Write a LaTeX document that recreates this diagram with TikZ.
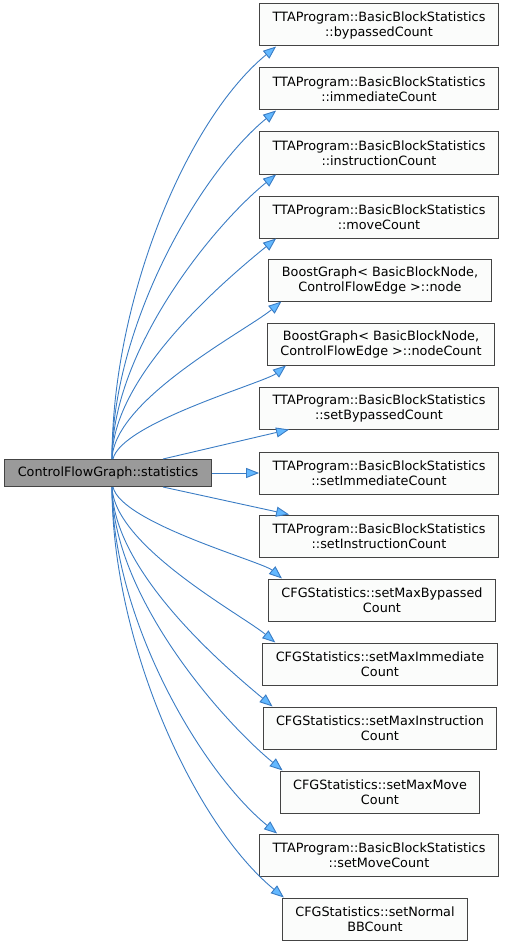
\documentclass[tikz,border=0pt]{standalone}
\usepackage{fontspec}
\setmainfont{DejaVu Sans}
\usetikzlibrary{arrows.meta}

\definecolor{edgeblue}{HTML}{3A7CC4}
\definecolor{tipblue}{HTML}{63B8FF}
\definecolor{boxline}{HTML}{444444}
\definecolor{boxfill}{HTML}{FBFCFB}
\definecolor{curfill}{HTML}{9A9A9A}

\begin{document}
\begin{tikzpicture}[
    x=1pt, y=-1pt,
    >={Triangle[length=13pt,width=10pt,fill=tipblue]},
    funcbox/.style={rectangle, draw=boxline, fill=boxfill, line width=1pt, align=center, inner xsep=13pt, minimum height=42pt, font=\fontsize{12.8}{15}\selectfont},
    curbox/.style={funcbox, fill=curfill, minimum height=27pt},
    call/.style={->, draw=edgeblue, line width=0.9pt}
]
\useasboundingbox (0,0) rectangle (505,947);
% ---------- caller ----------
\node[curbox] (stats) at (108,473) {ControlFlowGraph::statistics};
% ---------- callees ----------
\node[funcbox] (bypassed)       at (379,25)  {TTAProgram::BasicBlockStatistics\\::bypassedCount};
\node[funcbox] (immediate)      at (379,89)  {TTAProgram::BasicBlockStatistics\\::immediateCount};
\node[funcbox] (instruction)    at (379,153) {TTAProgram::BasicBlockStatistics\\::instructionCount};
\node[funcbox] (move)           at (379,217) {TTAProgram::BasicBlockStatistics\\::moveCount};
\node[funcbox] (bgnode)         at (380,280) {BoostGraph< BasicBlockNode,\\ ControlFlowEdge >::node};
\node[funcbox] (bgcount)        at (381,344) {BoostGraph< BasicBlockNode,\\ ControlFlowEdge >::nodeCount};
\node[funcbox] (setbypassed)    at (379,408) {TTAProgram::BasicBlockStatistics\\::setBypassedCount};
\node[funcbox] (setimmediate)   at (379,473) {TTAProgram::BasicBlockStatistics\\::setImmediateCount};
\node[funcbox] (setinstruction) at (379,536) {TTAProgram::BasicBlockStatistics\\::setInstructionCount};
\node[funcbox] (maxbypassed)    at (382,600) {CFGStatistics::setMaxBypassed\\Count};
\node[funcbox] (maximmediate)   at (380,664) {CFGStatistics::setMaxImmediate\\Count};
\node[funcbox] (maxinstruction) at (380,728) {CFGStatistics::setMaxInstruction\\Count};
\node[funcbox] (maxmove)        at (380,792) {CFGStatistics::setMaxMove\\Count};
\node[funcbox] (setmove)        at (379,855) {TTAProgram::BasicBlockStatistics\\::setMoveCount};
\node[funcbox] (normalbb)       at (375,919) {CFGStatistics::setNormal\\BBCount};
% ---------- calls, upper half ----------
\draw[call] ([xshift=4pt]stats.north) .. controls +(0,-157) and +(-91,75) .. ([xshift=17pt]bypassed.south west);
\draw[call] ([xshift=4pt]stats.north) .. controls +(0,-133) and +(-77,63) .. ([xshift=17pt]immediate.south west);
\draw[call] ([xshift=4pt]stats.north) .. controls +(0,-109) and +(-63,51) .. ([xshift=17pt]instruction.south west);
\draw[call] ([xshift=4pt]stats.north) .. controls +(0,-84) and +(-49,40) .. ([xshift=17pt]move.south west);
\draw[call] ([xshift=4pt]stats.north) .. controls +(2,-60) and +(-35,29) .. ([xshift=13pt]bgnode.south west);
\draw[call] ([xshift=5pt]stats.north) .. controls +(8,-36) and +(-21,17) .. ([xshift=19pt]bgcount.south west);
\draw[call] ([xshift=55pt]stats.north) -- ([xshift=30pt]setbypassed.south west);
% ---------- calls, straight ----------
\draw[call] (stats.east) -- (setimmediate.west);
% ---------- calls, lower half ----------
\draw[call] ([xshift=55pt]stats.south) -- ([xshift=30pt]setinstruction.north west);
\draw[call] ([xshift=5pt]stats.south) .. controls +(8,36) and +(-20,-17) .. ([xshift=14pt]maxbypassed.north west);
\draw[call] ([xshift=4pt]stats.south) .. controls +(2,59) and +(-34,-28) .. ([xshift=13pt]maximmediate.north west);
\draw[call] ([xshift=4pt]stats.south) .. controls +(0,84) and +(-48,-40) .. ([xshift=10pt]maxinstruction.north west);
\draw[call] ([xshift=4pt]stats.south) .. controls +(0,108) and +(-62,-51) .. ([xshift=3pt]maxmove.north west);
\draw[call] ([xshift=4pt]stats.south) .. controls +(0,132) and +(-76,-62) .. ([xshift=18pt]setmove.north west);
\draw[call] ([xshift=4pt]stats.south) .. controls +(0,156) and +(-90,-74) .. ([xshift=2pt]normalbb.north west);
\end{tikzpicture}
\end{document}
